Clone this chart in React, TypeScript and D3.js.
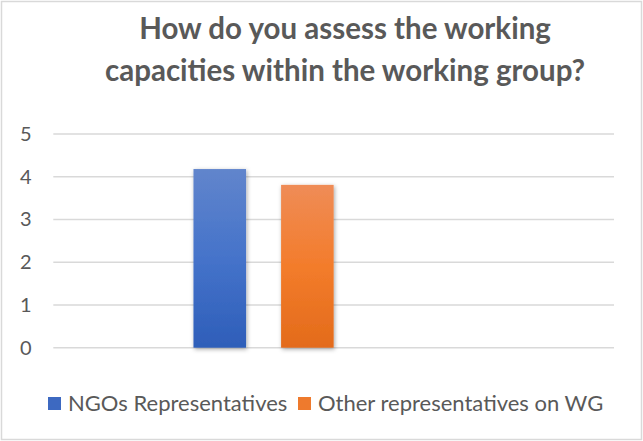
import React from "react";
import * as d3 from "d3";

const categories = ["c1", "c2", "c3", "c4"];
const seriesNames = ["NGOs Representatives", "Other representatives on WG"];
const ngoValues: (number | null)[] = [null, 4.18, null, null];
const otherValues: (number | null)[] = [null, 3.81, null, null];
const yTicks = [0, 1, 2, 3, 4, 5];
const titleLines = ["How do you assess the working", "capacities within the working group?"];

const W = 643;
const H = 441;
const plot = { left: 53.3, right: 614, top: 134, bottom: 347.7 };

export default function App() {
  const x0 = d3.scaleBand().domain(categories).range([plot.left, plot.right]).padding(0);
  const x1 = d3.scaleBand().domain(seriesNames).range([0, x0.bandwidth()]).paddingInner(0.4).paddingOuter(0);
  const y = d3.scaleLinear().domain([0, 5]).range([plot.bottom, plot.top]);
  const series = [
    { name: seriesNames[0], values: ngoValues, grad: "gBlue", color: "#4472C4" },
    { name: seriesNames[1], values: otherValues, grad: "gOrange", color: "#ED7D31" },
  ];
  const font = "Lato, 'Open Sans', sans-serif";
  const legendItems = [
    { name: seriesNames[0], sx: 48, tx: 68, color: "#3D69C1" },
    { name: seriesNames[1], sx: 298, tx: 318, color: "#EE7A2D" },
  ];
  return (
    <svg width={W} height={H} style={{ position: "fixed", left: 0, top: 0, display: "block" }}>
      <defs>
        <linearGradient id="gBlue" x1="0" y1="0" x2="0" y2="1">
          <stop offset="0" stopColor="#6185CC" />
          <stop offset="0.5" stopColor="#4573CA" />
          <stop offset="1" stopColor="#2E5EB9" />
        </linearGradient>
        <linearGradient id="gOrange" x1="0" y1="0" x2="0" y2="1">
          <stop offset="0" stopColor="#EF8C57" />
          <stop offset="0.5" stopColor="#F37C2B" />
          <stop offset="1" stopColor="#E36B1B" />
        </linearGradient>
        <filter id="shadow" x="-20%" y="-20%" width="140%" height="140%">
          <feDropShadow dx="1" dy="1.5" stdDeviation="2" floodColor="#000" floodOpacity="0.35" />
        </filter>
      </defs>
      <rect x={1.5} y={1.5} width={640} height={438} fill="#fff" stroke="#D9D9D9" strokeWidth={1.5} />
      {titleLines.map((t, i) => (
        <text key={i} x={345} y={39 + i * 42} textAnchor="middle" fontFamily={font} fontWeight="bold" fontSize={29.5} fill="#595959">
          {t}
        </text>
      ))}
      {yTicks.map((t) => (
        <g key={t}>
          <line x1={plot.left} x2={plot.right} y1={y(t)} y2={y(t)} stroke="#D9D9D9" strokeWidth={1.5} />
          <text x={31.5} y={y(t) + 7} textAnchor="end" fontFamily={font} fontSize={20} fill="#595959">
            {t}
          </text>
        </g>
      ))}
      {series.map((s) =>
        categories.map((c, i) => {
          const v = s.values[i];
          if (v == null) return null;
          const bx = (x0(c) as number) + (x1(s.name) as number);
          return (
            <rect key={s.name + c} x={bx} y={y(v)} width={x1.bandwidth()} height={y(0) - y(v)} fill={`url(#${s.grad})`} filter="url(#shadow)" />
          );
        })
      )}
      {legendItems.map((l) => (
        <g key={l.name}>
          <rect x={l.sx} y={397} width={13} height={13} fill={l.color} />
          <text x={l.tx} y={411} fontFamily={font} fontSize={22} fill="#595959">
            {l.name}
          </text>
        </g>
      ))}
    </svg>
  );
}
